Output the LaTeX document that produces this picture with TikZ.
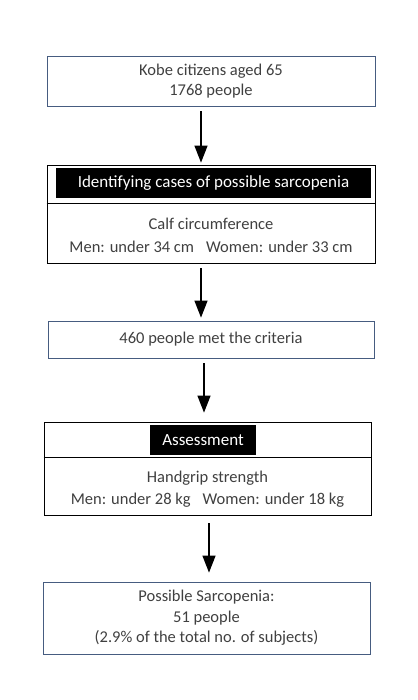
\documentclass[tikz,border=0pt]{standalone}
\usepackage{fontspec}
\setmainfont{Carlito}
\usepackage{tikz}
\usetikzlibrary{arrows.meta,positioning,calc}
\definecolor{boxblue}{RGB}{70,92,128}
\definecolor{txtgray}{RGB}{64,64,64}

\tikzset{
	blubox/.style={draw=boxblue,line width=0.8pt,minimum width=326pt,align=center,text=txtgray,inner sep=0pt,font=\fontsize{16.5pt}{20.5pt}\selectfont},
	blkbox/.style={draw=black,line width=0.8pt,minimum width=327pt},
	banner/.style={fill=black,text=white,minimum height=30pt,inner sep=0pt,font=\fontsize{17pt}{20pt}\selectfont},
	crit/.style={align=center,text=txtgray,inner sep=0pt,font=\fontsize{16.5pt}{22.5pt}\selectfont},
	arr/.style={line width=1.3pt,-{Triangle[width=13pt,length=17pt]}}
}

\begin{document}
\begin{tikzpicture}[x=1pt,y=-1pt]
	\useasboundingbox[fill=white] (0,0) rectangle (417,700);

	\node[blubox,minimum width=328pt,minimum height=50pt] (kobe) at (211,81) {Kobe citizens aged 65\\1768 people};

	\node[blkbox,minimum width=328pt,minimum height=98pt] (calf) at (211,214) {};
	\node[banner,minimum width=315pt] (ident) at (213.5,183) {Identifying cases of possible sarcopenia};
	\draw[line width=0.8pt] (calf.west |- 0,203) -- (calf.east |- 0,203);
	\node[crit] (calftxt) at (211,235.5) {Calf circumference\\Men: under 34 cm\hspace{12pt}Women: under 33 cm};

	\node[blubox,minimum height=37pt] (met) at (211,339.5) {460 people met the criteria};

	\node[blkbox,minimum height=93pt] (grip) at (207.5,468.5) {};
	\node[banner,minimum width=106pt] (assess) at (203,440) {Assessment};
	\draw[line width=0.8pt] (grip.west |- 0,457) -- (grip.east |- 0,457);
	\node[crit] (griptxt) at (207.5,489) {Handgrip strength\\Men: under 28 kg\hspace{12pt}Women: under 18 kg};

	\node[blubox,minimum width=327pt,minimum height=72pt] (poss) at (206.5,618) {Possible Sarcopenia:\\51 people\\(2.9\% of the total no. of subjects)};

	\draw[arr,shorten <=5pt,shorten >=2pt] ([xshift=-10pt]kobe.south) -- ([xshift=-10pt]kobe.south |- calf.north);
	\draw[arr,shorten <=5pt,shorten >=3pt] ([xshift=-10pt]calf.south) -- ([xshift=-10pt]calf.south |- met.north);
	\draw[arr,shorten <=5pt,shorten >=9pt] ([xshift=-7pt]met.south) -- ([xshift=-7pt]met.south |- grip.north);
	\draw[arr,shorten <=8pt,shorten >=9pt] ([xshift=1.5pt]grip.south) -- ([xshift=1.5pt]grip.south |- poss.north);
\end{tikzpicture}
\end{document}
